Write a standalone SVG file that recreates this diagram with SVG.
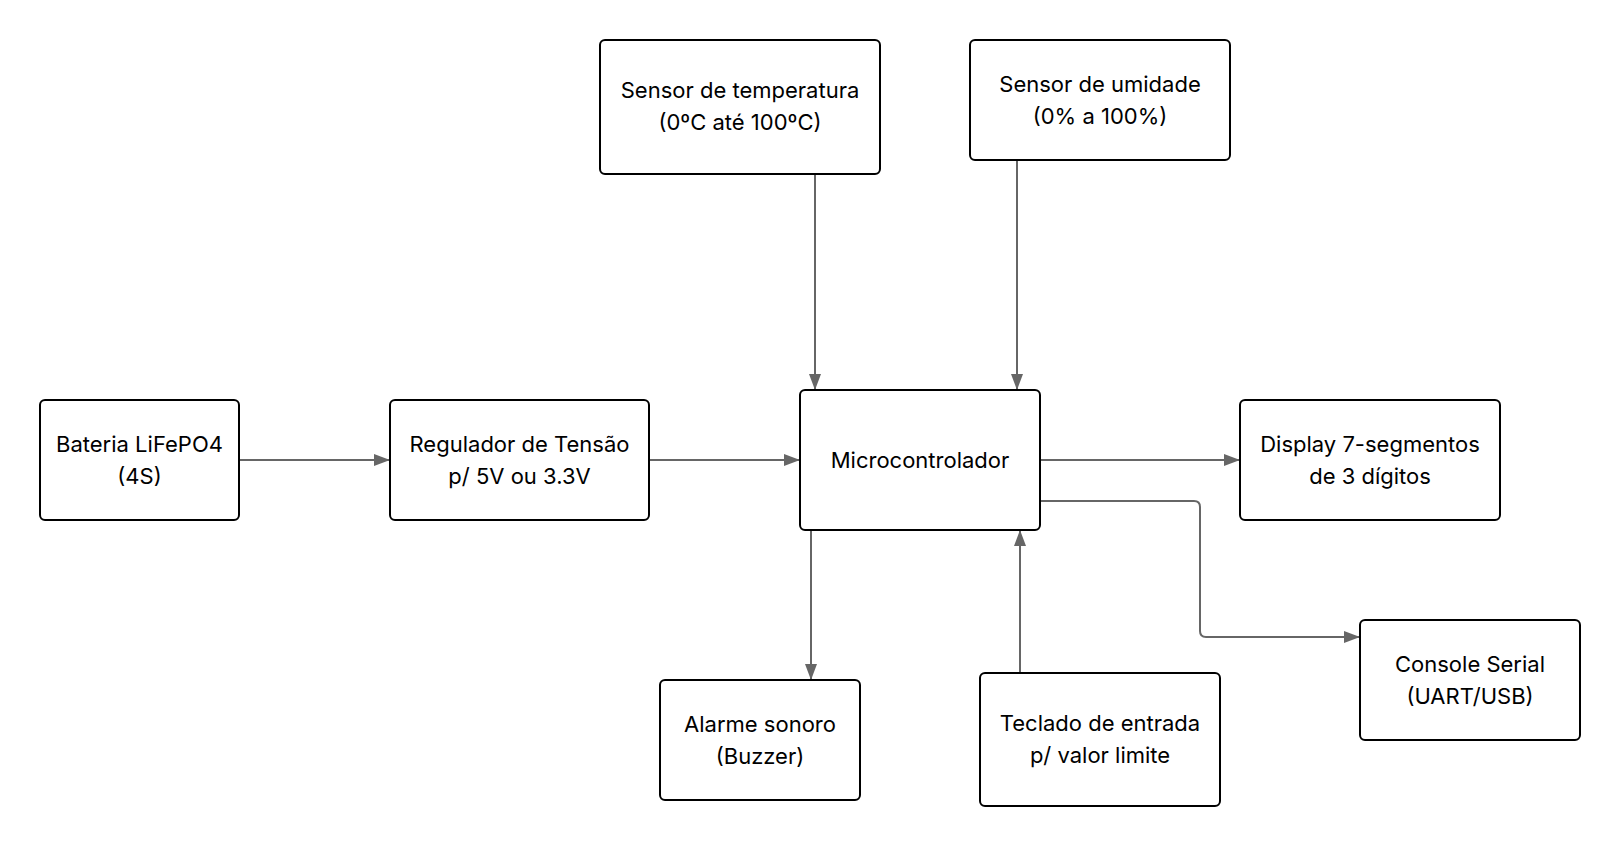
<svg xmlns="http://www.w3.org/2000/svg" width="1620" height="847" viewBox="0 0 1620 847">
<defs>
<marker id="arr" markerWidth="16" markerHeight="12" refX="15" refY="6" orient="auto" markerUnits="userSpaceOnUse">
<path d="M0,0 L16,6 L0,12 Z" fill="#666666"/>
</marker>
<style>
.box{fill:#ffffff;stroke:#000000;stroke-width:2}
.lbl{font-family:Inter,"Noto Sans","Liberation Sans",sans-serif;font-size:22px;fill:#000000;text-anchor:middle;dominant-baseline:central}
.edge{fill:none;stroke:#666666;stroke-width:2;marker-end:url(#arr)}
</style>
</defs>
<rect width="1620" height="847" fill="#ffffff"/>
<g id="connectors">
<path class="edge" d="M240,460 H389"/>
<path class="edge" d="M649,460 H799"/>
<path class="edge" d="M815,174 V389"/>
<path class="edge" d="M1017,160 V389"/>
<path class="edge" d="M1040,460 H1239"/>
<path class="edge" d="M1040,501 H1194 Q1200,501 1200,507 V631 Q1200,637 1206,637 H1359"/>
<path class="edge" d="M811,530 V679"/>
<path class="edge" d="M1020,673 V531"/>
</g>
<g id="bateria"><rect class="box" x="40" y="400" width="199" height="120" rx="5"/><text class="lbl" x="139.5" y="444">Bateria LiFePO4</text><text class="lbl" x="139.5" y="476">(4S)</text></g>
<g id="regulador"><rect class="box" x="390" y="400" width="259" height="120" rx="5"/><text class="lbl" x="519.5" y="444">Regulador de Tensão</text><text class="lbl" x="519.5" y="476">p/ 5V ou 3.3V</text></g>
<g id="micro"><rect class="box" x="800" y="390" width="240" height="140" rx="5"/><text class="lbl" x="920" y="460">Microcontrolador</text></g>
<g id="temp"><rect class="box" x="600" y="40" width="280" height="134" rx="5"/><text class="lbl" x="740" y="90">Sensor de temperatura</text><text class="lbl" x="740" y="122">(0ºC até 100ºC)</text></g>
<g id="umidade"><rect class="box" x="970" y="40" width="260" height="120" rx="5"/><text class="lbl" x="1100" y="84">Sensor de umidade</text><text class="lbl" x="1100" y="116">(0% a 100%)</text></g>
<g id="display"><rect class="box" x="1240" y="400" width="260" height="120" rx="5"/><text class="lbl" x="1370" y="444">Display 7-segmentos</text><text class="lbl" x="1370" y="476">de 3 dígitos</text></g>
<g id="console"><rect class="box" x="1360" y="620" width="220" height="120" rx="5"/><text class="lbl" x="1470" y="664">Console Serial</text><text class="lbl" x="1470" y="696">(UART/USB)</text></g>
<g id="alarme"><rect class="box" x="660" y="680" width="200" height="120" rx="5"/><text class="lbl" x="760" y="724">Alarme sonoro</text><text class="lbl" x="760" y="756">(Buzzer)</text></g>
<g id="teclado"><rect class="box" x="980" y="673" width="240" height="133" rx="5"/><text class="lbl" x="1100" y="723">Teclado de entrada</text><text class="lbl" x="1100" y="755">p/ valor limite</text></g>
</svg>
